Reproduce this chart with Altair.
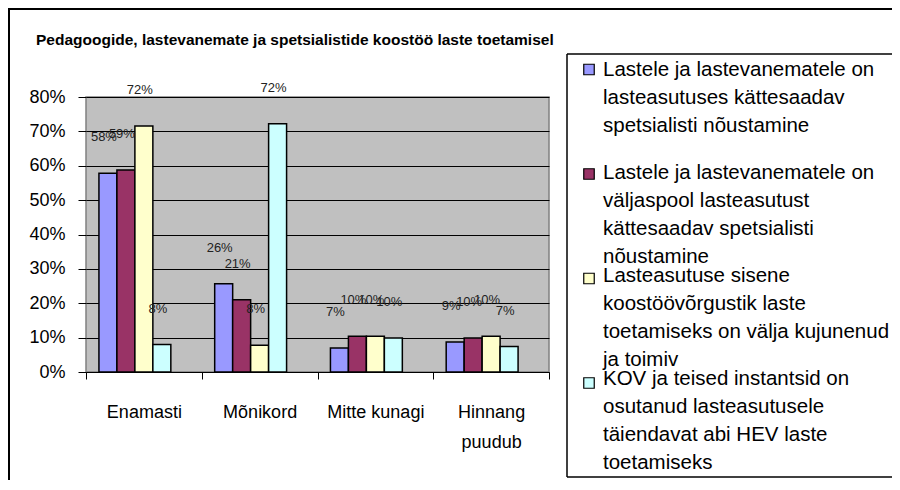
import altair as alt
import pandas as pd

# ---------------- data ----------------
categories = ["Enamasti", "Mõnikord", "Mitte kunagi", "Hinnang puudub"]
series = [
    "Lastele ja lastevanematele on lasteasutuses kättesaadav spetsialisti nõustamine",
    "Lastele ja lastevanematele on väljaspool lasteasutust kättesaadav spetsialisti nõustamine",
    "Lasteasutuse sisene koostöövõrgustik laste toetamiseks on välja kujunenud ja toimiv",
    "KOV ja teised instantsid on osutanud lasteasutusele täiendavat abi  HEV laste toetamiseks",
]
legend_labels = [
    "Lastele ja lastevanematele on\nlasteasutuses kättesaadav\nspetsialisti nõustamine",
    "Lastele ja lastevanematele on\nväljaspool lasteasutust\nkättesaadav spetsialisti\nnõustamine",
    "Lasteasutuse sisene\nkoostöövõrgustik laste\ntoetamiseks on välja kujunenud\nja toimiv",
    "KOV ja teised instantsid on\nosutanud lasteasutusele\ntäiendavat abi  HEV laste\ntoetamiseks",
]
colors = ["#9999FF", "#993366", "#FFFFCC", "#CCFFFF"]
values_s1 = [0.578, 0.257, 0.070, 0.087]
values_s2 = [0.588, 0.210, 0.104, 0.099]
values_s3 = [0.716, 0.078, 0.104, 0.104]
values_s4 = [0.080, 0.722, 0.099, 0.074]
y_ticks = [0, 0.1, 0.2, 0.3, 0.4, 0.5, 0.6, 0.7, 0.8]
title_text = "Pedagoogide, lastevanemate ja spetsialistide koostöö laste toetamisel"

FONT = "Liberation Sans"

rows = []
for s, vals in zip(series, [values_s1, values_s2, values_s3, values_s4]):
    for c, v in zip(categories, vals):
        rows.append({"category": c, "series": s, "value": v})
df = pd.DataFrame(rows)

legend_df = pd.DataFrame({"series": series, "order": list(range(len(series))), "label": legend_labels})
one = pd.DataFrame({"k": [0]})

# ---------------- main bars ----------------
x_enc = alt.X(
    "category:N",
    sort=categories,
    scale=alt.Scale(domain=categories, paddingInner=0, paddingOuter=0),
    axis=alt.Axis(
        title=None, labelAngle=0, labelFontSize=18, labelColor="black", labelFont=FONT,
        labelPadding=24, labelLineHeight=30, tickBand="extent", tickSize=7,
        tickColor="black", domainColor="black", domainWidth=1,
        labelExpr="datum.label == 'Hinnang puudub' ? split(datum.label, ' ') : datum.label",
    ),
)
# an empty slot after the four series reproduces the left-shifted bar groups
xoff_enc = alt.XOffset(
    "series:N", sort=series,
    scale=alt.Scale(domain=series + ["_gap"], paddingInner=0, paddingOuter=0.72),
)
y_enc = alt.Y(
    "value:Q",
    scale=alt.Scale(domain=[0, 0.8], nice=False),
    axis=alt.Axis(
        title=None, values=y_ticks, format=".0%", grid=True, gridColor="black",
        gridWidth=1, gridOpacity=1, domain=False, tickColor="black", tickSize=8,
        labelPadding=13, labelFontSize=18, labelColor="black", labelFont=FONT,
    ),
)
color_enc = alt.Color("series:N", scale=alt.Scale(domain=series, range=colors), legend=None)

bars = alt.Chart(df).mark_bar(stroke="black", strokeWidth=1.5).encode(
    x=x_enc, xOffset=xoff_enc, y=y_enc, color=color_enc
)
labels = alt.Chart(df).mark_text(
    dy=-36, dx=-4, baseline="middle", align="center", fontSize=13, color="#222222", font=FONT
).encode(
    x=x_enc, xOffset=xoff_enc, y=y_enc, text=alt.Text("value:Q", format=".0%")
)
main = alt.layer(bars, labels)

# ---------------- legend (drawn as marks) ----------------
box_style = dict(color="black", strokeWidth=1.5)
legend_top = alt.Chart(one).mark_rule(**box_style).encode(
    x=alt.value(481), x2=alt.value(840), y=alt.value(-43)
)
legend_bottom = alt.Chart(one).mark_rule(**box_style).encode(
    x=alt.value(481), x2=alt.value(840), y=alt.value(380)
)
legend_left = alt.Chart(one).mark_rule(**box_style).encode(
    x=alt.value(481), y=alt.value(-43), y2=alt.value(380)
)
legend_sq = alt.Chart(legend_df).mark_square(size=110, filled=True, stroke="black", strokeWidth=1.2, opacity=1).encode(
    x=alt.value(503),
    y=alt.Y("order:Q", scale=alt.Scale(domain=[0, 3], range=[-27.5, 286], nice=False, zero=False), axis=None),
    color=alt.Color("series:N", scale=alt.Scale(domain=series, range=colors), legend=None),
)
legend_txt = alt.Chart(legend_df).mark_text(
    align="left", baseline="alphabetic", fontSize=20.5, lineHeight=28, lineBreak="\n",
    color="black", font=FONT
).encode(
    x=alt.value(517),
    y=alt.Y("order:Q", scale=alt.Scale(domain=[0, 3], range=[-21, 288], nice=False, zero=False), axis=None),
    text="label:N",
)

# ---------------- title & frame ----------------
title = alt.Chart(pd.DataFrame({"t": [title_text]})).mark_text(
    align="left", baseline="alphabetic", fontSize=15.5, fontWeight="bold", color="black", font=FONT
).encode(x=alt.value(-50), y=alt.value(-52), text="t:N")

frame_top = alt.Chart(one).mark_rule(color="black", strokeWidth=4).encode(
    x=alt.value(-80), x2=alt.value(840), y=alt.value(-89)
)
frame_left = alt.Chart(one).mark_rule(color="black", strokeWidth=4).encode(
    x=alt.value(-78), y=alt.value(-90), y2=alt.value(420)
)

chart = alt.layer(
    main, legend_top, legend_bottom, legend_left, legend_sq, legend_txt, title, frame_top, frame_left
).resolve_scale(y="independent").properties(
    width=463, height=275,
    autosize=alt.AutoSizeParams(type="none"),
    padding={"left": 78, "top": 89, "right": 343, "bottom": 108},
    background="white",
).configure(font=FONT).configure_view(
    fill="#C0C0C0", stroke="#808080", strokeWidth=1.5
)

chart.save("out.html", embed_options={"renderer": "svg", "actions": False})
